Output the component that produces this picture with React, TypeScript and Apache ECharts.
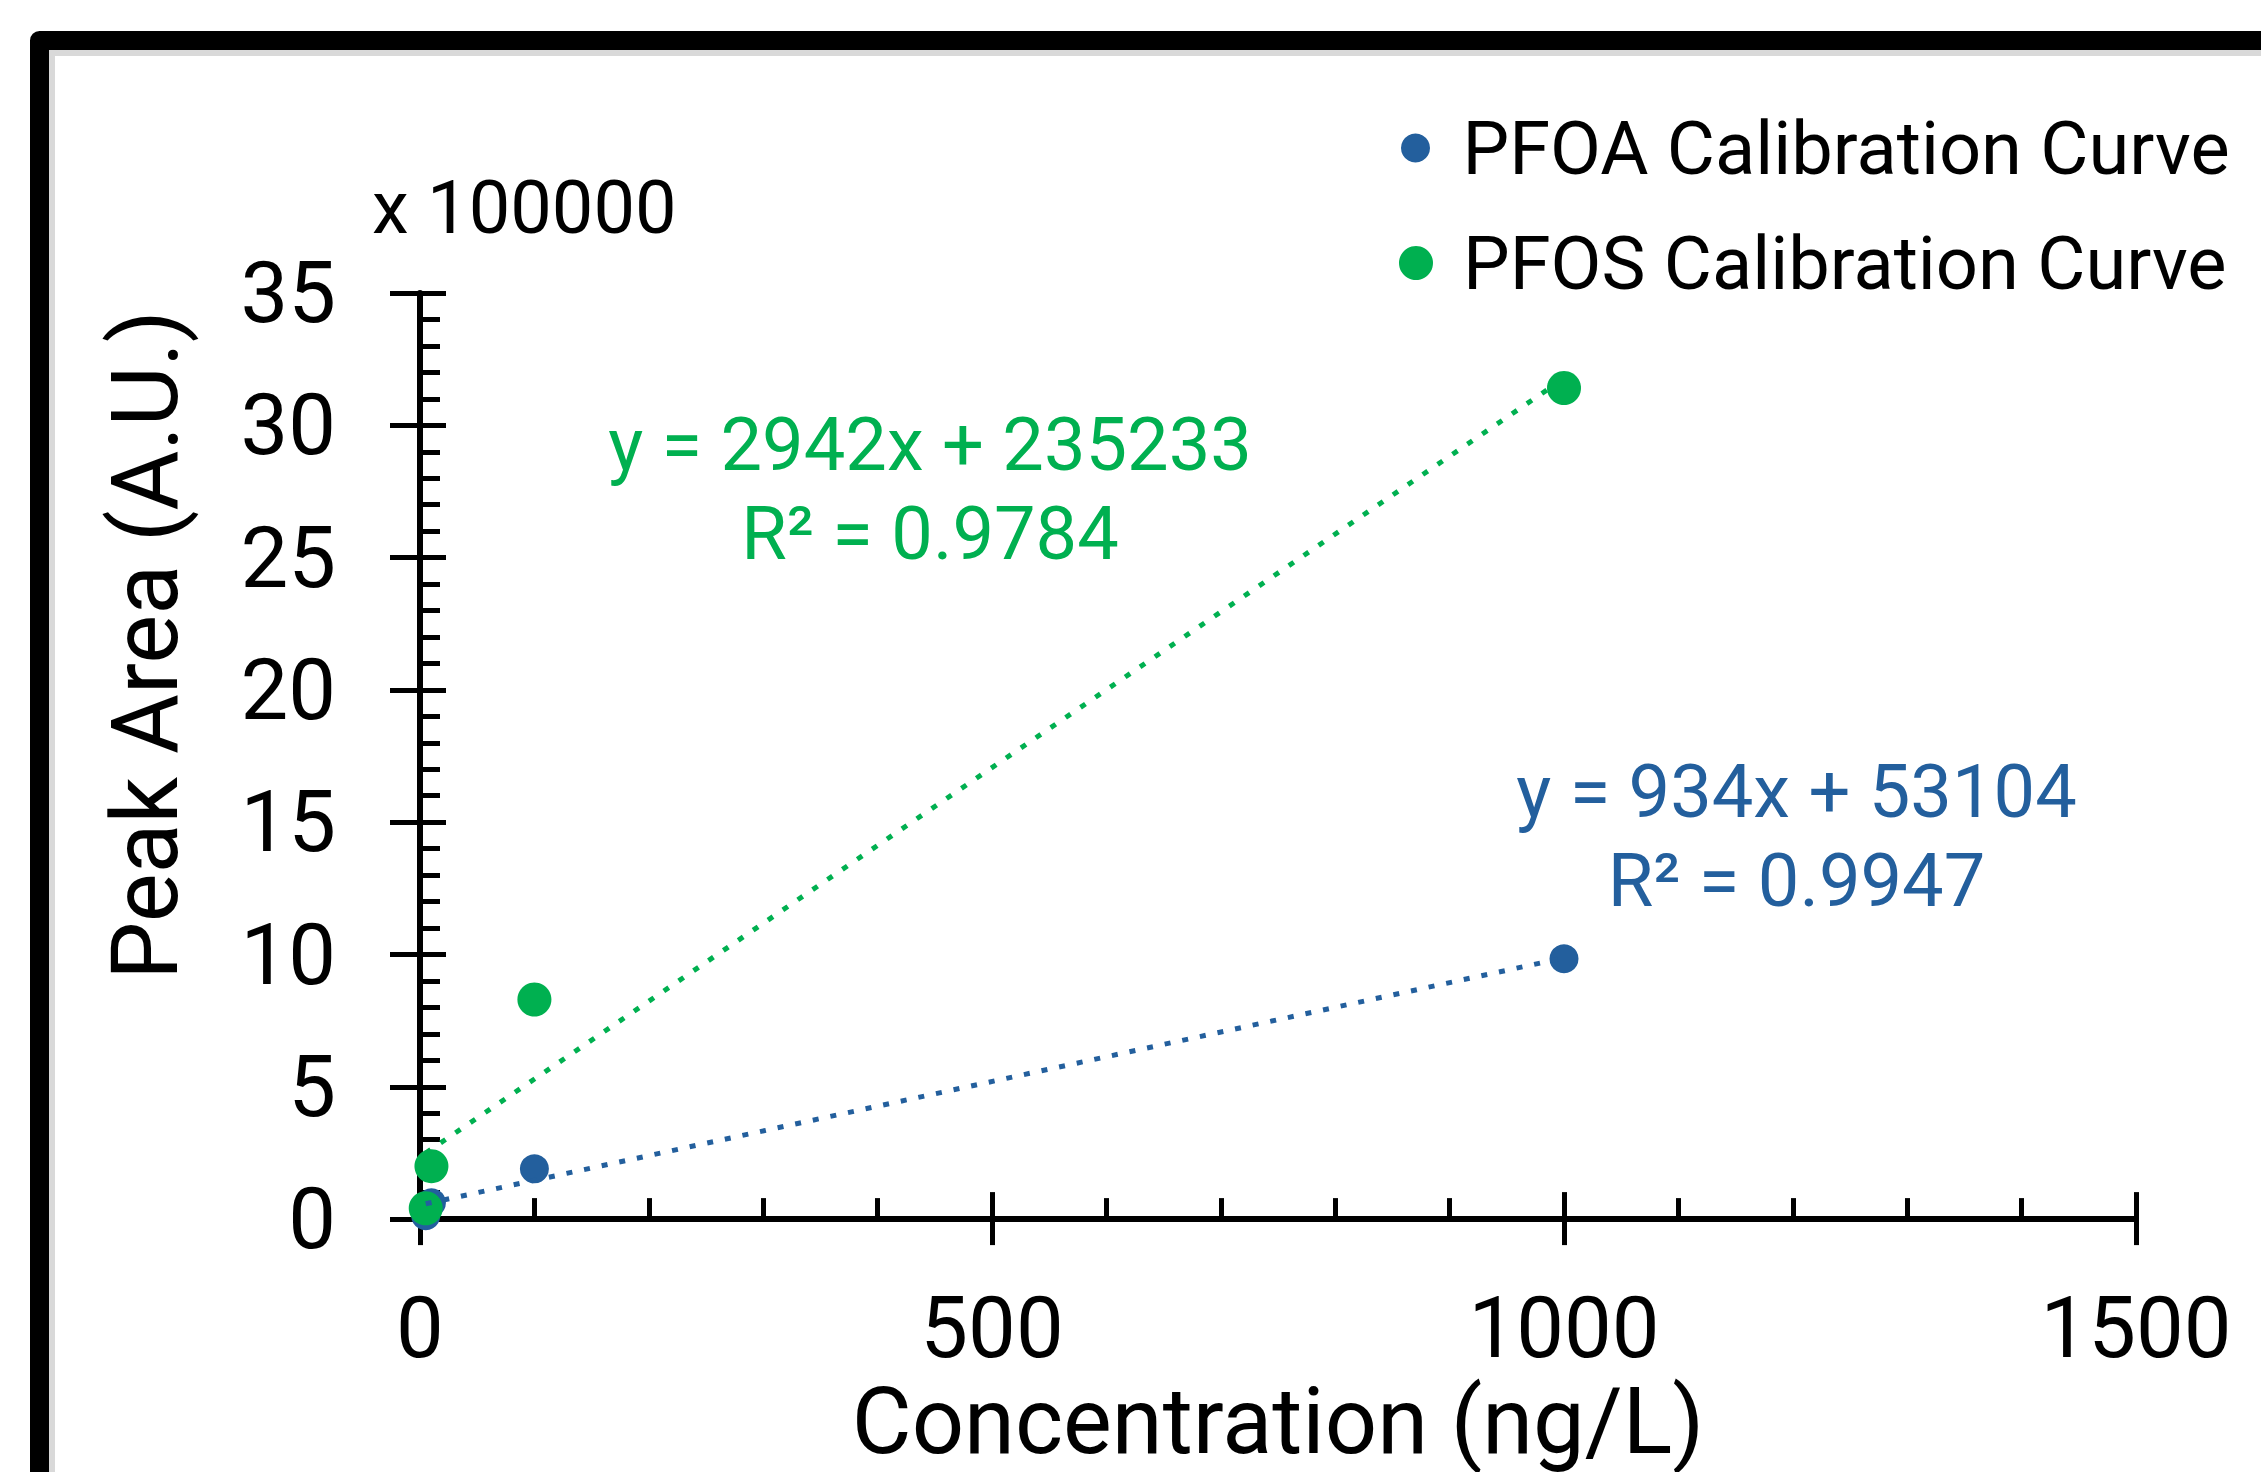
import React, { useEffect, useRef } from 'react';
import * as echarts from 'echarts';

// ---- data ----
const concentrations = [5, 10, 100, 1000];
const pfoaArea = [13000, 62000, 190000, 984000];
const pfosArea = [41000, 200000, 830000, 3141000];
const trendX = [5, 1000];
const pfoaTrend = [57774, 987104];
const pfosTrend = [249943, 3177233];
const seriesNames = ['PFOA Calibration Curve', 'PFOS Calibration Curve'];
const pfoaEquation = ['y = 934x + 53104', 'R² = 0.9947'];
const pfosEquation = ['y = 2942x + 235233', 'R² = 0.9784'];
const yScaleLabel = 'x 100000';
const yUnit = 100000;
const xTitle = 'Concentration (ng/L)';
const yTitle = 'Peak Area (A.U.)';

const BLUE = '#235F9D';
const GREEN = '#00B050';
const FONT = 'Roboto';

const pairs = (xs: number[], ys: number[]) => xs.map((x, i) => [x, ys[i]]);

export default function App() {
  const ref = useRef<HTMLDivElement>(null);
  useEffect(() => {
    if (!ref.current) return;
    const chart = echarts.init(ref.current, null, { renderer: 'svg' });
    const axisLineStyle = { color: '#000', width: 6 };
    const tickStyle = { color: '#000', width: 5 };
    const textBase = { fontFamily: FONT, color: '#000' };
    const option: any = {
      animation: false,
      backgroundColor: '#fff',
      grid: { left: 420, right: 125, top: 293, bottom: 251, containLabel: false },
      xAxis: [
        {
          type: 'value', min: 0, max: 1500, interval: 500, position: 'bottom',
          axisLine: { show: true, onZero: false, lineStyle: axisLineStyle },
          axisTick: { show: true, inside: true, length: 27, lineStyle: tickStyle },
          minorTick: { show: true, splitNumber: 5, length: 21, lineStyle: tickStyle },
          axisLabel: { ...textBase, fontSize: 85, margin: 66, formatter: (v: number) => String(v) },
          splitLine: { show: false },
          name: xTitle, nameLocation: 'middle', nameGap: 155,
          nameTextStyle: { ...textBase, fontSize: 92 },
        },
        {
          type: 'value', min: 0, max: 1500, interval: 500, position: 'bottom',
          axisLine: { show: false },
          axisTick: { show: true, inside: false, length: 26, lineStyle: tickStyle },
          axisLabel: { show: false },
          splitLine: { show: false },
        },
      ],
      yAxis: [
        {
          type: 'value', min: 0, max: 35 * yUnit, interval: 5 * yUnit, position: 'left',
          axisLine: { show: true, onZero: false, lineStyle: axisLineStyle },
          axisTick: { show: true, inside: true, length: 26, lineStyle: tickStyle },
          minorTick: { show: true, splitNumber: 5, length: 20, lineStyle: tickStyle },
          axisLabel: { ...textBase, fontSize: 85, margin: 84, formatter: (v: number) => String(v / yUnit) },
          splitLine: { show: false },
        },
        {
          type: 'value', min: 0, max: 35 * yUnit, interval: 5 * yUnit, position: 'left',
          axisLine: { show: false },
          axisTick: { show: true, inside: false, length: 30, lineStyle: tickStyle },
          axisLabel: { show: false },
          splitLine: { show: false },
        },
      ],
      legend: [
        {
          data: [seriesNames[0]], left: 1401, top: 111, padding: 0,
          icon: 'circle', itemWidth: 84, itemHeight: 29,
          textStyle: { ...textBase, fontSize: 74 },
        },
        {
          data: [seriesNames[1]], left: 1399, top: 226, padding: 0,
          icon: 'circle', itemWidth: 84, itemHeight: 34,
          textStyle: { ...textBase, fontSize: 74 },
        },
      ],
      series: [
        {
          name: seriesNames[0], type: 'scatter', xAxisIndex: 0, yAxisIndex: 0,
          symbol: 'circle', symbolSize: 29, itemStyle: { color: BLUE, opacity: 1 }, z: 2,
          data: pairs(concentrations, pfoaArea),
        },
        {
          name: seriesNames[1], type: 'scatter', xAxisIndex: 0, yAxisIndex: 0,
          symbol: 'circle', symbolSize: 34, itemStyle: { color: GREEN, opacity: 1 }, z: 3,
          data: pairs(concentrations, pfosArea),
        },
        {
          name: 'PFOA trend', type: 'line', xAxisIndex: 0, yAxisIndex: 0,
          showSymbol: false, symbol: 'none', z: 4, silent: true,
          lineStyle: { color: BLUE, width: 5, type: [6, 12], cap: 'butt' },
          data: pairs(trendX, pfoaTrend),
        },
        {
          name: 'PFOS trend', type: 'line', xAxisIndex: 0, yAxisIndex: 0,
          showSymbol: false, symbol: 'none', z: 5, silent: true,
          lineStyle: { color: GREEN, width: 5, type: [6, 12], cap: 'butt' },
          data: pairs(trendX, pfosTrend),
        },
      ],
      graphic: [
        {
          type: 'rect', silent: true, z: 0,
          shape: { x: 52, y: 53, width: 2400, height: 1600 },
          style: { fill: 'none', stroke: '#d9d9d9', lineWidth: 6 },
        },
        {
          type: 'rect', silent: true, z: 1,
          shape: { x: 39.5, y: 40.5, width: 2400, height: 1600 },
          style: { fill: 'none', stroke: '#000', lineWidth: 19, lineJoin: 'round' },
        },
        {
          type: 'text', x: 145, y: 645, rotation: Math.PI / 2, silent: true,
          style: { text: yTitle, fontSize: 92, fontFamily: FONT, fill: '#000', align: 'center', verticalAlign: 'middle', textAlign: 'center', textVerticalAlign: 'middle' },
        },
        {
          type: 'text', x: 372, y: 207, silent: true,
          style: { text: yScaleLabel, fontSize: 74, fontFamily: FONT, fill: '#000', align: 'left', verticalAlign: 'middle', textAlign: 'left', textVerticalAlign: 'middle' },
        },
        ...pfosEquation.map((t, i) => ({
          type: 'text', x: 930, y: 444.5 + i * 88.5, silent: true,
          style: { text: t, fontSize: 74, fontFamily: FONT, fill: GREEN, align: 'center', verticalAlign: 'middle', textAlign: 'center', textVerticalAlign: 'middle' },
        })),
        ...pfoaEquation.map((t, i) => ({
          type: 'text', x: 1796.5, y: 791.5 + i * 88.5, silent: true,
          style: { text: t, fontSize: 74, fontFamily: FONT, fill: BLUE, align: 'center', verticalAlign: 'middle', textAlign: 'center', textVerticalAlign: 'middle' },
        })),
      ],
    };
    chart.setOption(option);
    return () => chart.dispose();
  }, []);
  return (
    <div
      ref={ref}
      style={{ position: 'fixed', left: 0, top: 0, width: 2261, height: 1472, background: '#fff' }}
    />
  );
}
